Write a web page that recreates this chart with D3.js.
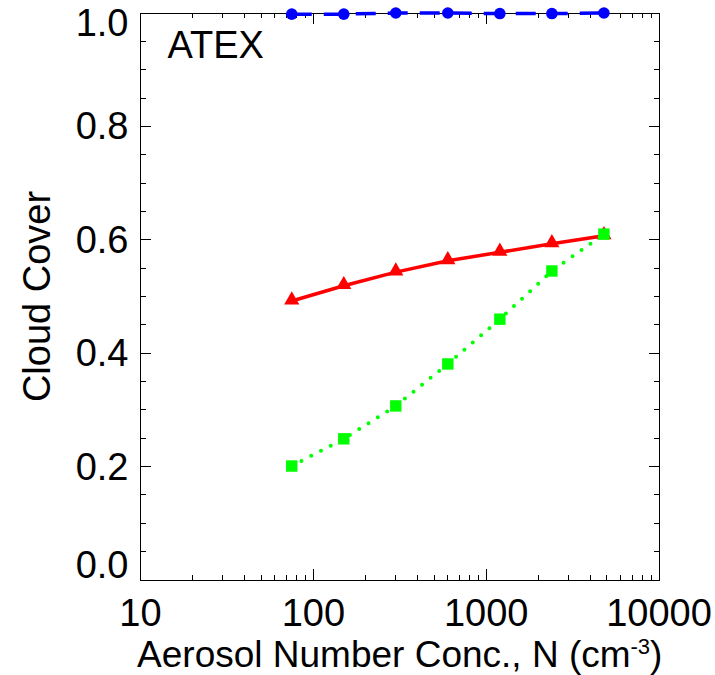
<!DOCTYPE html>
<html>
<head>
<meta charset="utf-8">
<script src="https://cdn.jsdelivr.net/npm/d3@7"></script>
<style>
  html, body { margin: 0; padding: 0; background: #fff; }
  svg { display: block; }
  text { font-family: "Liberation Sans", Arial, sans-serif; fill: #000; }
</style>
</head>
<body>
<div id="chart"></div>
<script>
// aerosol number concentration (cm-3)
const aerosolN = [75, 150, 300, 600, 1200, 2400, 4800];
// cloud cover for each run
const blueCover = [0.998, 0.998, 1.0, 1.0, 0.999, 0.999, 1.0];
const redCover = [0.492, 0.519, 0.543, 0.563, 0.578, 0.593, 0.607];
const greenCover = [0.201, 0.249, 0.307, 0.381, 0.460, 0.545, 0.610];

const xTicks = [10, 100, 1000, 10000];
const yTicks = [0, 0.2, 0.4, 0.6, 0.8, 1.0];

const W = 715, H = 675;
const margin = { top: 13, right: 56, bottom: 95, left: 140.5 };
const width = W - margin.left - margin.right;
const height = H - margin.top - margin.bottom;

const svg = d3.select('#chart').append('svg')
    .attr('width', W)
    .attr('height', H);

const g = svg.append('g')
    .attr('transform', `translate(${margin.left}, ${margin.top})`);

const x = d3.scaleLog().domain([10, 10000]).range([0, width]);
const y = d3.scaleLinear().domain([0, 1]).range([height, 0]);

// minor ticks
const minorX = [];
for (let d = 10; d < 10000; d *= 10) {
    for (let k = 2; k <= 9; k++) minorX.push(d * k);
}
const minorY = d3.range(0, 1.0001, 0.05).filter(v => Math.abs((v * 5) - Math.round(v * 5)) > 1e-6);

const axisG = g.append('g').attr('stroke', '#000').attr('stroke-width', 1)
    .attr('shape-rendering', 'crispEdges');

// frame
axisG.append('rect')
    .attr('x', 0).attr('y', 0)
    .attr('width', width).attr('height', height)
    .attr('fill', 'none');

// x ticks bottom + top
function xTick(v, len) {
    axisG.append('line').attr('x1', x(v)).attr('x2', x(v)).attr('y1', height).attr('y2', height - len);
    axisG.append('line').attr('x1', x(v)).attr('x2', x(v)).attr('y1', 0).attr('y2', len);
}
xTicks.forEach(v => xTick(v, 11));
minorX.forEach(v => xTick(v, 5));

function yTick(v, len) {
    axisG.append('line').attr('x1', 0).attr('x2', len).attr('y1', y(v)).attr('y2', y(v));
    axisG.append('line').attr('x1', width).attr('x2', width - len).attr('y1', y(v)).attr('y2', y(v));
}
yTicks.forEach(v => yTick(v, 10));
minorY.forEach(v => yTick(v, 5));

// tick labels
g.selectAll('text.xlab')
    .data(xTicks)
    .enter().append('text')
    .attr('class', 'xlab')
    .attr('x', d => x(d))
    .attr('y', height + 46)
    .attr('text-anchor', 'middle')
    .style('font-size', '38px')
    .text(d => d);

g.selectAll('text.ylab')
    .data(yTicks)
    .enter().append('text')
    .attr('class', 'ylab')
    .attr('x', -12)
    .attr('y', d => Math.max(23, Math.min(height - 2, y(d) + 13)))
    .attr('text-anchor', 'end')
    .style('font-size', '38px')
    .text(d => d3.format('.1f')(d));

// axis titles
const xt = svg.append('text')
    .attr('x', margin.left + width / 2)
    .attr('y', 667)
    .attr('text-anchor', 'middle')
    .style('font-size', '37px');
xt.append('tspan').text('Aerosol Number Conc., N (cm');
xt.append('tspan').attr('dy', -13).style('font-size', '22px').text('-3');
xt.append('tspan').attr('dy', 13).text(')');

svg.append('text')
    .attr('transform', `translate(50, ${margin.top + height / 2}) rotate(-90)`)
    .attr('text-anchor', 'middle')
    .style('font-size', '38px')
    .text('Cloud Cover');

g.append('text')
    .attr('x', 27)
    .attr('y', 45)
    .style('font-size', '38px')
    .text('ATEX');

// series
const line = d3.line()
    .x(d => x(d[0]))
    .y(d => y(d[1]));

const blueData = d3.zip(aerosolN, blueCover);
const redData = d3.zip(aerosolN, redCover);
const greenData = d3.zip(aerosolN, greenCover);

g.append('path')
    .datum(blueData)
    .attr('d', line)
    .attr('fill', 'none')
    .attr('stroke', '#0000ff')
    .attr('stroke-width', 3.5)
    .attr('stroke-dasharray', '20 12');

g.selectAll('circle.blue')
    .data(blueData)
    .enter().append('circle')
    .attr('class', 'blue')
    .attr('cx', d => x(d[0]))
    .attr('cy', d => y(d[1]))
    .attr('r', 5.8)
    .attr('fill', '#0000ff');

g.append('path')
    .datum(redData)
    .attr('d', line)
    .attr('fill', 'none')
    .attr('stroke', '#ff0000')
    .attr('stroke-width', 3.5);

g.selectAll('path.tri')
    .data(redData)
    .enter().append('path')
    .attr('class', 'tri')
    .attr('d', d3.symbol().type(d3.symbolTriangle).size(100))
    .attr('transform', d => `translate(${x(d[0])}, ${y(d[1]) - 1})`)
    .attr('fill', '#ff0000');

g.append('path')
    .datum(greenData)
    .attr('d', line)
    .attr('fill', 'none')
    .attr('stroke', '#00ff00')
    .attr('stroke-width', 4)
    .attr('stroke-linecap', 'round')
    .attr('stroke-dasharray', '0 11');

g.selectAll('rect.sq')
    .data(greenData)
    .enter().append('rect')
    .attr('class', 'sq')
    .attr('x', d => x(d[0]) - 5.7)
    .attr('y', d => y(d[1]) - 5.7)
    .attr('width', 11.4)
    .attr('height', 11.4)
    .attr('fill', '#00ff00');
</script>
</body>
</html>
